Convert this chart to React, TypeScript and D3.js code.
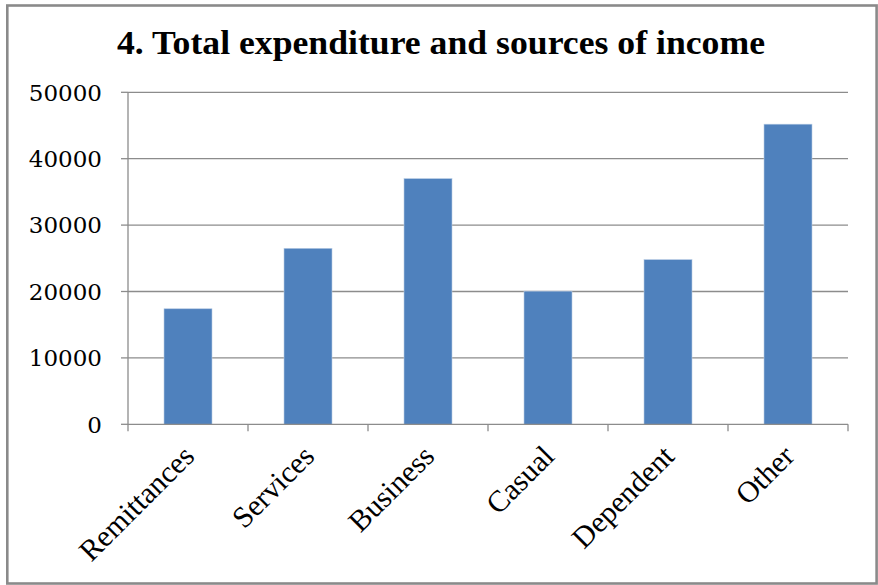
import React from "react";
import * as d3 from "d3";

const categories = ["Remittances", "Services", "Business", "Casual", "Dependent", "Other"];
const values = [17400, 26500, 37000, 20050, 24800, 45200];
const yTicks = [0, 10000, 20000, 30000, 40000, 50000];
const title = "4. Total expenditure and sources of income";

export default function App() {
  const W = 878, H = 585;
  const x0 = 128, x1 = 848, yTop = 92.3, yBottom = 424.3;
  const x = d3.scaleBand<string>().domain(categories).range([x0, x1]).paddingInner(0.6).paddingOuter(0.3);
  const y = d3.scaleLinear().domain([0, 50000]).range([yBottom, yTop]);
  const step = x.step();
  const tickXs = d3.range(categories.length + 1).map((i) => x0 + i * step);

  return (
    <svg width={W} height={H} style={{ position: "absolute", left: 0, top: 0, background: "#fff" }}>
      <rect x={0} y={0} width={W} height={H} fill="#fff" />
      <rect x={7.3} y={5.5} width={869.3} height={578} fill="none" stroke="#8a8a8a" strokeWidth={2.6} />
      <text
        x={441}
        y={54}
        textAnchor="middle"
        fontFamily="'Liberation Serif', 'Times New Roman', serif"
        fontWeight="bold"
        fontSize={33}
        textLength={648}
        lengthAdjust="spacingAndGlyphs"
        fill="#000"
      >
        {title}
      </text>
      {yTicks.map((t) => (
        <g key={t}>
          {t > 0 && (
            <line x1={x0} x2={x1} y1={y(t)} y2={y(t)} stroke="#8c8c8c" strokeWidth={1.3} />
          )}
          <line x1={x0 - 7} x2={x0} y1={y(t)} y2={y(t)} stroke="#8c8c8c" strokeWidth={1.3} />
          <text
            x={102}
            y={y(t)}
            dy="0.36em"
            textAnchor="end"
            fontFamily="'DejaVu Serif', serif"
            fontSize={23}
            fill="#000"
          >
            {t}
          </text>
        </g>
      ))}
      <line x1={x0} x2={x0} y1={yTop} y2={yBottom} stroke="#8c8c8c" strokeWidth={1.3} />
      {categories.map((c, i) => (
        <rect
          key={c}
          x={x(c)!}
          y={y(values[i])}
          width={x.bandwidth()}
          height={yBottom - y(values[i])}
          fill="#4f81bd"
          stroke="#b8cce4"
          strokeWidth={0.6}
        />
      ))}
      <line x1={x0} x2={x1} y1={yBottom} y2={yBottom} stroke="#8c8c8c" strokeWidth={1.3} />
      {tickXs.map((tx, i) => (
        <line key={i} x1={tx} x2={tx} y1={yBottom} y2={yBottom + 7} stroke="#8c8c8c" strokeWidth={1.3} />
      ))}
      {categories.map((c) => {
        const cx = x(c)! + x.bandwidth() / 2 + 8;
        const cy = 458;
        return (
          <text
            key={c}
            x={cx}
            y={cy}
            textAnchor="end"
            transform={`rotate(-45 ${cx} ${cy})`}
            fontFamily="'Liberation Serif', 'Times New Roman', serif"
            fontSize={30}
            fill="#000"
          >
            {c}
          </text>
        );
      })}
    </svg>
  );
}
